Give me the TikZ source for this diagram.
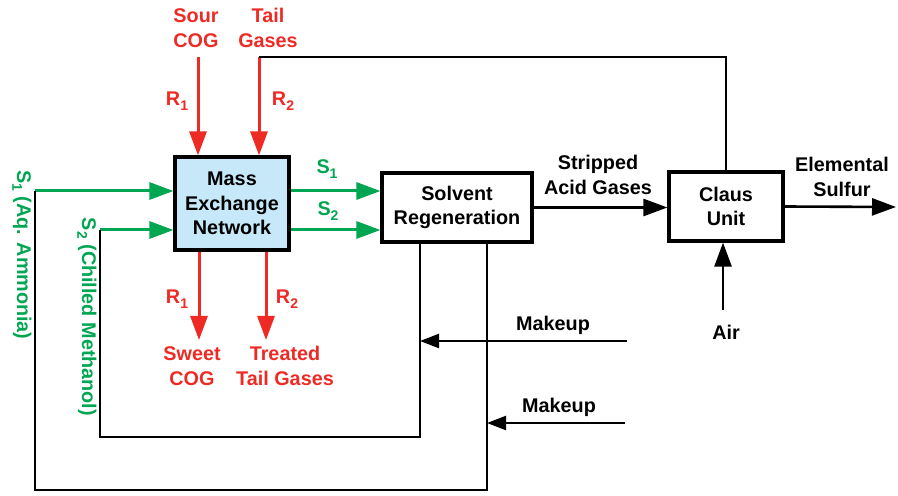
\documentclass[tikz,border=0pt]{standalone}
\usepackage{fontspec}
\setmainfont{Liberation Sans}
\usetikzlibrary{positioning,arrows.meta}

\definecolor{flowred}{HTML}{EE2A24}
\definecolor{flowgreen}{HTML}{00A651}
\definecolor{netblue}{HTML}{C6E8F8}

\newcommand{\lowidx}[1]{\raisebox{-0.45ex}{\fontsize{7}{8}\selectfont #1}}

\begin{document}
\begin{tikzpicture}[
  x=0.5pt, y=-0.5pt,
  font=\fontsize{9.9}{12.3}\selectfont\bfseries,
  unit/.style = {
    rectangle, draw=black, line width=1.6pt, inner sep=0pt,
    minimum height=34.5pt, align=center,
  },
  redarrow/.style = {-{Triangle[length=12pt,width=8.5pt]}, line width=1.5pt, draw=flowred},
  greenarrow/.style = {-{Triangle[length=12pt,width=8.5pt]}, line width=1.5pt, draw=flowgreen},
  blackarrow/.style = {-{Triangle[length=12pt,width=8.5pt]}, line width=1.3pt},
  makeuparrow/.style = {-{Triangle[length=9.5pt,width=7pt]}, line width=1.1pt},
  line/.style = {line width=1.3pt},
  redlabel/.style = {text=flowred, align=center},
  greenlabel/.style = {text=flowgreen},
]
  \useasboundingbox (0,0) rectangle (898,496);

  % units
  \node[unit, fill=netblue, minimum width=57pt, minimum height=46.5pt] (men) at (232,203.5) {Mass\\Exchange\\Network};
  \node[unit, minimum width=75pt] (regen) at (457,207.5) {Solvent\\Regeneration};
  \node[unit, minimum width=57pt] (claus) at (726,206.5) {Claus\\Unit};

  % free ends
  \coordinate (sour) at (198,57);
  \coordinate (tail) at (259,57);
  \coordinate (sweet) at (199,340);
  \coordinate (treated) at (266,340);
  \coordinate (s1) at (35,191);
  \coordinate (s2) at (100,230);
  \coordinate (ret1) at (487,490);
  \coordinate (ret2) at (420,437);
  \coordinate (mk1) at (627,341);
  \coordinate (mk2) at (625,423);
  \coordinate (air) at (723,310);
  \coordinate (sulfur) at (896,207);

  % rich streams
  \node[redlabel] (sourlbl) at (196,28) {Sour\\COG};
  \node[redlabel] (taillbl) at (268,28) {Tail\\Gases};
  \draw[redarrow] (sour) -- (sour |- men.north);
  \draw[redarrow] (tail) -- (tail |- men.north);
  \node[redlabel] (r1in) at (177,101) {R\lowidx{1}};
  \node[redlabel] (r2in) at (283,101) {R\lowidx{2}};

  \draw[redarrow] (sweet |- men.south) -- (sweet);
  \draw[redarrow] (treated |- men.south) -- (treated);
  \node[redlabel] (r1out) at (177,299) {R\lowidx{1}};
  \node[redlabel] (r2out) at (287,299) {R\lowidx{2}};
  \node[redlabel] (sweetlbl) at (192,366) {Sweet\\COG};
  \node[redlabel] (treatedlbl) at (285,366) {Treated\\Tail Gases};

  % lean streams
  \draw[greenarrow] (s1) -- (s1 -| men.west);
  \draw[greenarrow] (s2) -- (s2 -| men.west);
  \draw[greenarrow] (men.east |- s1) -- (regen.west |- s1);
  \draw[greenarrow] (men.east |- s2) -- (regen.west |- s2);
  \node[greenlabel] (s1lbl) at (327,169) {S\lowidx{1}};
  \node[greenlabel] (s2lbl) at (328,211) {S\lowidx{2}};
  \node[greenlabel, rotate=-90] (ammonia) at (22,255) {S\lowidx{1} (Aq. Ammonia)};
  \node[greenlabel, rotate=-90] (methanol) at (87,317) {S\lowidx{2} (Chilled Methanol)};

  % recycle
  \draw[line] (ret2 |- regen.south) -- (ret2) -| (s2);
  \draw[line] (ret1 |- regen.south) -- (ret1) -| (s1);
  \draw[makeuparrow] (mk1) -- (mk1 -| ret2);
  \draw[makeuparrow] (mk2) -- (mk2 -| ret1);
  \node (mk1lbl) at (553,325) {Makeup};
  \node (mk2lbl) at (559,407) {Makeup};

  % sulfur recovery
  \draw[line] (tail) -| (claus.north);
  \draw[blackarrow] (regen.east) -- (regen.east -| claus.west);
  \node[align=center] (acid) at (598,175) {Stripped\\Acid Gases};
  \draw[blackarrow] (claus.east) -- (sulfur);
  \node[align=center] (sulfurlbl) at (842,177) {Elemental\\Sulfur};
  \draw[blackarrow] (air) -- (air |- claus.south);
  \node (airlbl) at (726,332) {Air};
\end{tikzpicture}
\end{document}
